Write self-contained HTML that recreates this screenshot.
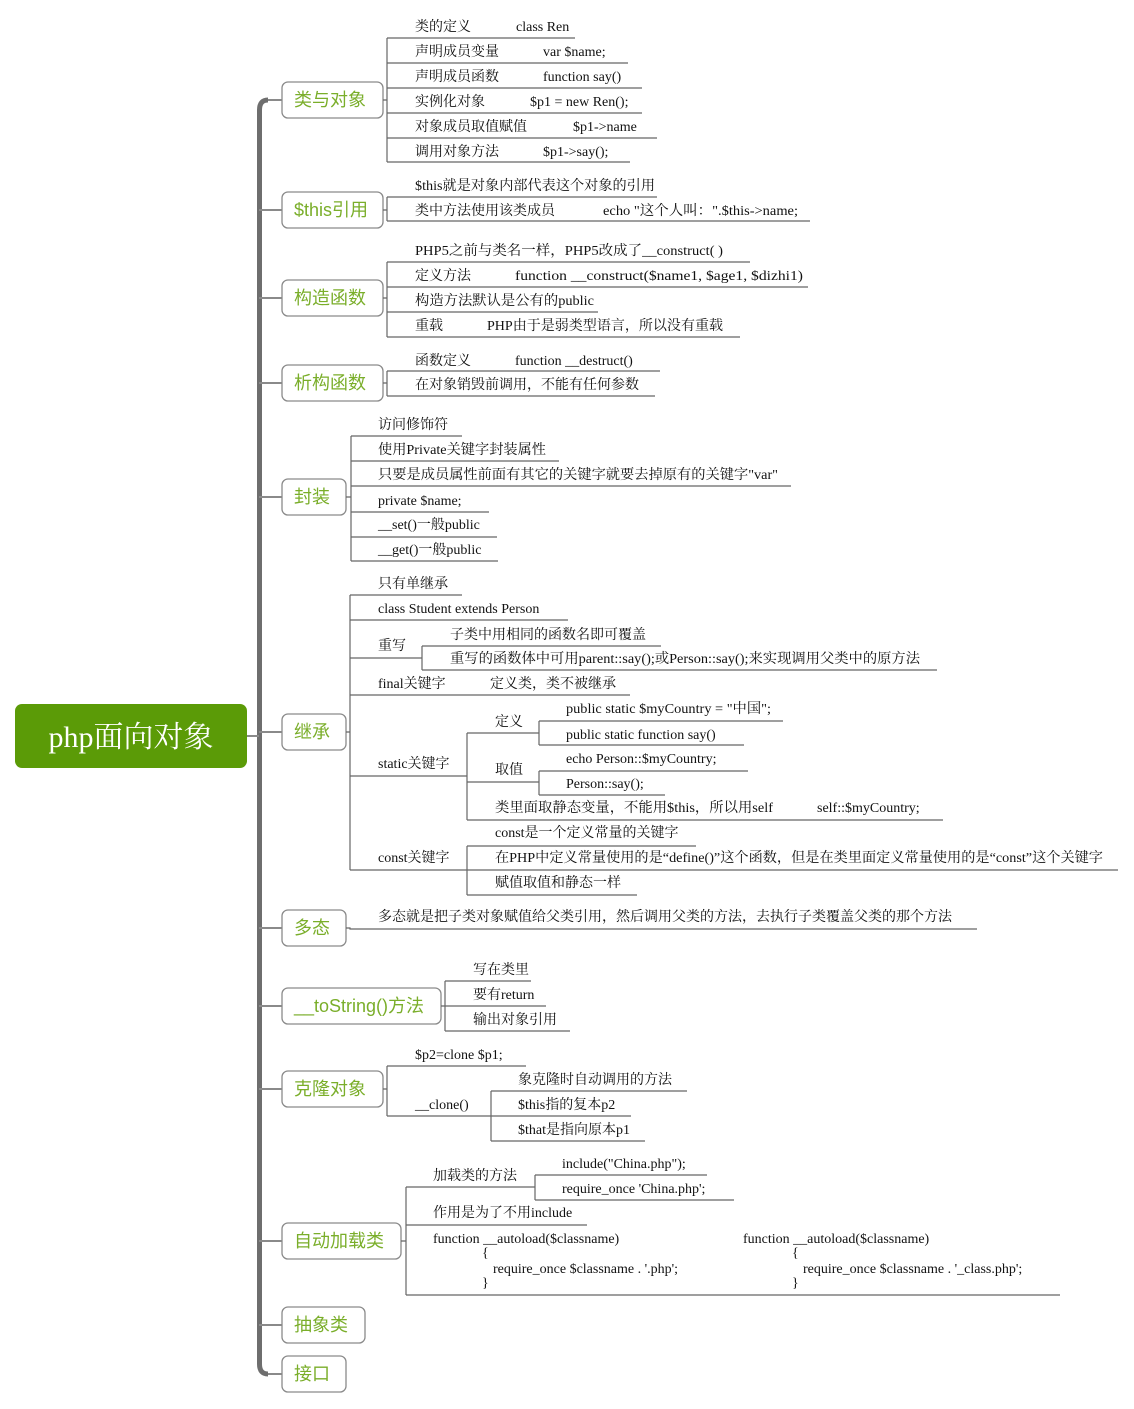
<!DOCTYPE html>
<html><head><meta charset="utf-8"><style>
html,body{margin:0;padding:0;background:#fff;}
svg{display:block;}
.t{font-family:"Liberation Serif","Noto Serif CJK SC",serif;font-size:14px;fill:#111;}
.tp{font-family:"Liberation Sans","Noto Sans CJK SC",sans-serif;font-size:18px;fill:#7aae2a;}
.ln{stroke:#666;stroke-width:1.2;fill:none;}
.bx{fill:#fff;stroke:#8a8a8a;stroke-width:1.3;}
.br{stroke:#8a8a8a;stroke-width:2;fill:none;}
</style></head><body>
<svg width="1134" height="1409" viewBox="0 0 1134 1409" xmlns="http://www.w3.org/2000/svg">
<!-- trunk -->
<path d="M268,100 Q259.5,100 259.5,110 L259.5,1364 Q259.5,1374 268,1374" stroke="#6e6e6e" stroke-width="5" fill="none"/>
<g class="br">
<path d="M259,210 Q262,210 270,210 L282,210"/>
<path d="M259,298 L282,298"/>
<path d="M259,383 L282,383"/>
<path d="M259,497 L282,497"/>
<path d="M247,736 L259,736 M259,732 L282,732"/>
<path d="M259,928 L282,928"/>
<path d="M259,1006 L282,1006"/>
<path d="M259,1089 L282,1089"/>
<path d="M259,1241 L282,1241"/>
<path d="M259,1325 L282,1325"/>
<path d="M268,100 L282,100 M268,1374 L282,1374"/>
</g>
<!-- root -->
<rect x="15" y="704" width="232" height="64" rx="7" fill="#5b9b07"/>
<text x="131" y="747" text-anchor="middle" font-family="Liberation Serif,Noto Serif CJK SC,serif" font-size="30" fill="#fff">php面向对象</text>

<!-- topic boxes -->
<rect class="bx" x="282" y="82" width="101" height="36" rx="6"/><text class="tp" x="294" y="106">类与对象</text>
<rect class="bx" x="282" y="192" width="101" height="36" rx="6"/><text class="tp" x="294" y="216">$this引用</text>
<rect class="bx" x="282" y="280" width="101" height="36" rx="6"/><text class="tp" x="294" y="304">构造函数</text>
<rect class="bx" x="282" y="365" width="101" height="36" rx="6"/><text class="tp" x="294" y="389">析构函数</text>
<rect class="bx" x="282" y="479" width="64" height="36" rx="6"/><text class="tp" x="294" y="503">封装</text>
<rect class="bx" x="282" y="714" width="64" height="36" rx="6"/><text class="tp" x="294" y="738">继承</text>
<rect class="bx" x="282" y="910" width="64" height="36" rx="6"/><text class="tp" x="294" y="934">多态</text>
<rect class="bx" x="282" y="988" width="159" height="36" rx="6"/><text class="tp" x="294" y="1012">__toString()方法</text>
<rect class="bx" x="282" y="1071" width="101" height="36" rx="6"/><text class="tp" x="294" y="1095">克隆对象</text>
<rect class="bx" x="282" y="1223" width="119" height="36" rx="6"/><text class="tp" x="294" y="1247">自动加载类</text>
<rect class="bx" x="282" y="1307" width="83" height="36" rx="6"/><text class="tp" x="294" y="1331">抽象类</text>
<rect class="bx" x="282" y="1356" width="64" height="36" rx="6"/><text class="tp" x="294" y="1380">接口</text>

<g class="ln">
<!-- 类与对象 -->
<path d="M383,100 L387,100 M387,38 L387,162"/>
<path d="M387,38 L575,38 M387,63 L628,63 M387,88 L642,88 M387,113 L642,113 M387,138 L657,138 M387,162 L630,162"/>
<!-- this -->
<path d="M383,210 L387,210 M387,197 L387,221 M387,197 L657,197 M387,221 L810,221"/>
<!-- 构造 -->
<path d="M383,298 L387,298 M387,262 L387,337 M387,262 L750,262 M387,287 L808,287 M387,312 L598,312 M387,337 L740,337"/>
<!-- 析构 -->
<path d="M383,383 L387,383 M387,371 L387,396 M387,371 L660,371 M387,396 L655,396"/>
<!-- 封装 -->
<path d="M346,497 L351,497 M351,436 L351,561 M351,436 L462,436 M351,461 L559,461 M351,486 L791,486 M351,512 L489,512 M351,537 L497,537 M351,561 L498,561"/>
<!-- 继承 -->
<path d="M346,732 L350,732 M350,595 L350,870"/>
<path d="M350,595 L462,595 M350,620 L568,620 M350,658 L422,658 M350,695 L630,695 M350,776 L467,776 M350,870 L451,870"/>
<path d="M422,646 L422,670 M422,646 L661,646 M422,670 L937,670"/>
<path d="M467,733 L467,820 M467,733 L539,733 M467,782 L539,782 M467,820 L943,820"/>
<path d="M539,721 L539,745 M539,721 L783,721 M539,745 L744,745"/>
<path d="M539,771 L539,795 M539,771 L748,771 M539,795 L665,795"/>
<path d="M467,846 L467,895 M451,870 L467,870 M467,846 L696,846 M467,870 L1118,870 M467,895 L637,895"/>
<!-- 多态 -->
<path d="M346,928 L350,928 L350,929 L977,929"/>
<!-- toString -->
<path d="M441,1006 L445,1006 M445,981 L445,1031 M445,981 L531,981 M445,1006 L546,1006 M445,1031 L570,1031"/>
<!-- clone -->
<path d="M383,1089 L387,1089 M387,1066 L387,1116 M387,1066 L526,1066 M387,1116 L491,1116"/>
<path d="M491,1091 L491,1141 M491,1091 L687,1091 M491,1116 L631,1116 M491,1141 L645,1141"/>
<!-- autoload -->
<path d="M401,1241 L406,1241 M406,1187 L406,1295 M406,1187 L535,1187 M406,1225 L587,1225 M406,1295 L1060,1295"/>
<path d="M535,1175 L535,1200 M535,1175 L707,1175 M535,1200 L734,1200"/>
</g>

<g class="t">
<text x="415" y="31">类的定义</text><text x="516" y="31">class Ren</text>
<text x="415" y="56">声明成员变量</text><text x="543" y="56">var $name;</text>
<text x="415" y="81">声明成员函数</text><text x="543" y="81">function say()</text>
<text x="415" y="106">实例化对象</text><text x="530" y="106">$p1 = new Ren();</text>
<text x="415" y="131">对象成员取值赋值</text><text x="573" y="131">$p1->name</text>
<text x="415" y="156">调用对象方法</text><text x="543" y="156">$p1->say();</text>

<text x="415" y="190" textLength="240" lengthAdjust="spacingAndGlyphs">$this就是对象内部代表这个对象的引用</text>
<text x="415" y="215">类中方法使用该类成员</text><text x="603" y="215" textLength="195" lengthAdjust="spacingAndGlyphs">echo "这个人叫：".$this->name;</text>

<text x="415" y="255" textLength="308" lengthAdjust="spacingAndGlyphs">PHP5之前与类名一样，PHP5改成了__construct( )</text>
<text x="415" y="280">定义方法</text><text x="515" y="280" textLength="288" lengthAdjust="spacingAndGlyphs">function __construct($name1, $age1, $dizhi1)</text>
<text x="415" y="305" textLength="179" lengthAdjust="spacingAndGlyphs">构造方法默认是公有的public</text>
<text x="415" y="330">重载</text><text x="487" y="330" textLength="236" lengthAdjust="spacingAndGlyphs">PHP由于是弱类型语言，所以没有重载</text>

<text x="415" y="365">函数定义</text><text x="515" y="365">function __destruct()</text>
<text x="415" y="389" textLength="224" lengthAdjust="spacingAndGlyphs">在对象销毁前调用，不能有任何参数</text>

<text x="378" y="429">访问修饰符</text>
<text x="378" y="454" textLength="168" lengthAdjust="spacingAndGlyphs">使用Private关键字封装属性</text>
<text x="378" y="479" textLength="400" lengthAdjust="spacingAndGlyphs">只要是成员属性前面有其它的关键字就要去掉原有的关键字"var"</text>
<text x="378" y="505">private $name;</text>
<text x="378" y="529">__set()一般public</text>
<text x="378" y="554">__get()一般public</text>

<text x="378" y="588">只有单继承</text>
<text x="378" y="613">class Student extends Person</text>
<text x="378" y="650">重写</text>
<text x="450" y="639">子类中用相同的函数名即可覆盖</text>
<text x="450" y="663" textLength="470" lengthAdjust="spacingAndGlyphs">重写的函数体中可用parent::say();或Person::say();来实现调用父类中的原方法</text>
<text x="378" y="688">final关键字</text><text x="490" y="688">定义类，类不被继承</text>
<text x="378" y="768">static关键字</text>
<text x="495" y="726">定义</text>
<text x="495" y="774">取值</text>
<text x="566" y="713" textLength="205" lengthAdjust="spacingAndGlyphs">public static $myCountry = "中国";</text>
<text x="566" y="739">public static function say()</text>
<text x="566" y="763">echo Person::$myCountry;</text>
<text x="566" y="788">Person::say();</text>
<text x="495" y="812" textLength="278" lengthAdjust="spacingAndGlyphs">类里面取静态变量，不能用$this，所以用self</text><text x="817" y="812">self::$myCountry;</text>
<text x="378" y="862">const关键字</text>
<text x="495" y="837">const是一个定义常量的关键字</text>
<text x="495" y="862" textLength="608" lengthAdjust="spacingAndGlyphs">在PHP中定义常量使用的是“define()”这个函数，但是在类里面定义常量使用的是“const”这个关键字</text>
<text x="495" y="887">赋值取值和静态一样</text>

<text x="378" y="921" textLength="574" lengthAdjust="spacingAndGlyphs">多态就是把子类对象赋值给父类引用，然后调用父类的方法，去执行子类覆盖父类的那个方法</text>

<text x="473" y="974">写在类里</text>
<text x="473" y="999">要有return</text>
<text x="473" y="1024">输出对象引用</text>

<text x="415" y="1059">$p2=clone $p1;</text>
<text x="415" y="1109">__clone()</text>
<text x="518" y="1084">象克隆时自动调用的方法</text>
<text x="518" y="1109">$this指的复本p2</text>
<text x="518" y="1134">$that是指向原本p1</text>

<text x="433" y="1180">加载类的方法</text>
<text x="562" y="1168">include("China.php");</text>
<text x="562" y="1193">require_once 'China.php';</text>
<text x="433" y="1217">作用是为了不用include</text>
<text x="433" y="1243">function __autoload($classname)</text>
<text x="482" y="1257">{</text>
<text x="493" y="1273">require_once $classname . '.php';</text>
<text x="482" y="1287">}</text>
<text x="743" y="1243">function __autoload($classname)</text>
<text x="792" y="1257">{</text>
<text x="803" y="1273">require_once $classname . '_class.php';</text>
<text x="792" y="1287">}</text>
</g>
</svg>
</body></html>
